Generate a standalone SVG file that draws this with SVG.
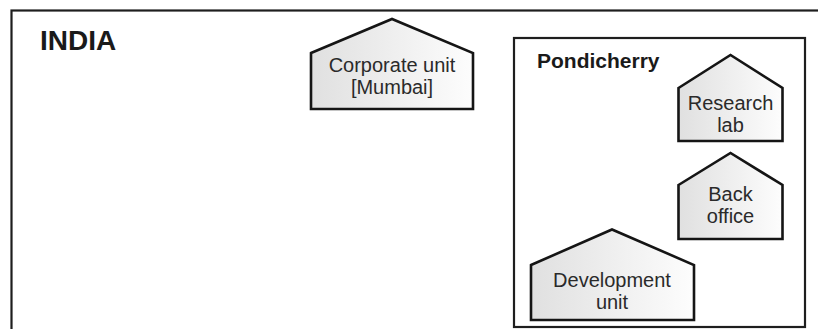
<svg xmlns="http://www.w3.org/2000/svg" width="818" height="329" viewBox="0 0 818 329">
<defs>
<linearGradient id="g" x1="0" y1="0" x2="1" y2="0">
<stop offset="0" stop-color="#e0e0e0"/>
<stop offset="1" stop-color="#fdfdfd"/>
</linearGradient>
<style>
.frame{fill:none;stroke:#1e1e1e;stroke-width:2.2}
.house{fill:url(#g);stroke:#151515;stroke-width:2.6;stroke-linejoin:miter}
.lbl{font-family:"Liberation Sans",Arial,sans-serif;font-size:20px;fill:#2a2a2a;text-anchor:middle}
.ttl{font-family:"Liberation Sans",Arial,sans-serif;font-weight:bold;fill:#1a1a1a}
</style>
</defs>
<rect width="818" height="329" fill="#fff"/>
<g id="india">
<rect class="frame" x="11.5" y="10.5" width="830" height="340"/>
<text class="ttl" x="40" y="50" font-size="28">INDIA</text>
</g>
<g id="corporate">
<path class="house" d="M311,53 L392,19 L473,53 L473,109 L311,109 Z"/>
<text class="lbl" x="392" y="72">Corporate unit</text>
<text class="lbl" x="392" y="94">[Mumbai]</text>
</g>
<g id="pondicherry">
<rect class="frame" x="514" y="38" width="291" height="289"/>
<text class="ttl" x="537" y="68" font-size="21">Pondicherry</text>
</g>
<g id="research">
<path class="house" d="M678.5,88 L730.5,55 L782.5,88 L782.5,141 L678.5,141 Z"/>
<text class="lbl" x="730.5" y="110">Research</text>
<text class="lbl" x="730.5" y="132">lab</text>
</g>
<g id="backoffice">
<path class="house" d="M678.5,185 L730.5,153 L782.5,185 L782.5,239 L678.5,239 Z"/>
<text class="lbl" x="730.5" y="201">Back</text>
<text class="lbl" x="730.5" y="223">office</text>
</g>
<g id="development">
<path class="house" d="M531,265 L612,229.5 L694,265 L694,320 L531,320 Z"/>
<text class="lbl" x="612" y="287">Development</text>
<text class="lbl" x="612" y="309">unit</text>
</g>
<g id="connectors"></g>
</svg>
